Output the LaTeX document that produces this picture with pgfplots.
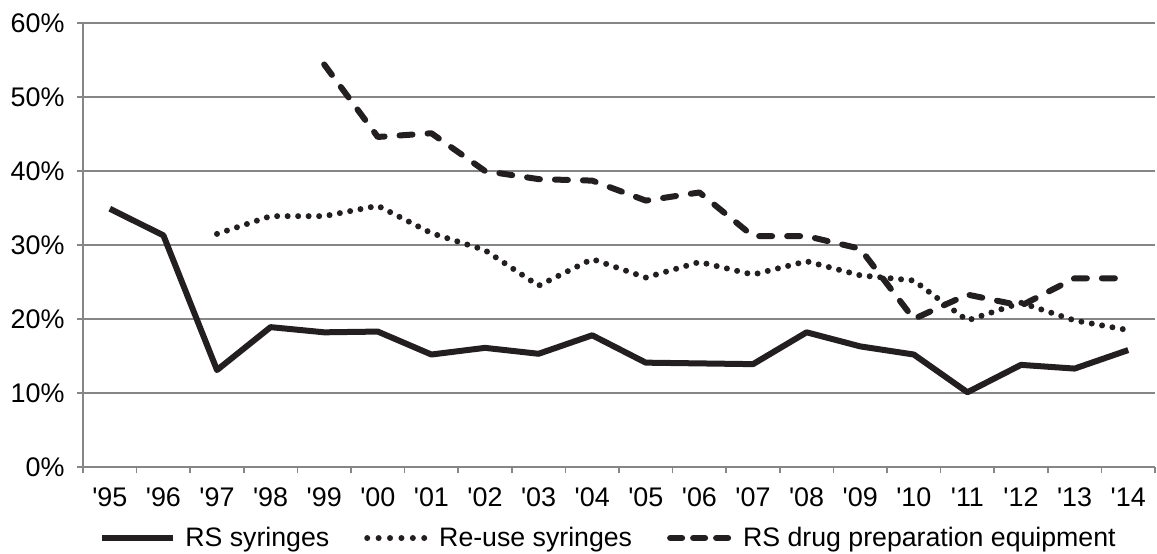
\documentclass[border=0pt]{standalone}
\usepackage{fontspec}
\setmainfont{Liberation Sans}[Ligatures=TeXOff]
\usepackage{pgfplots}
\pgfplotsset{compat=1.18}
\definecolor{ln}{RGB}{35,31,32}
\definecolor{gr}{RGB}{134,134,134}
\begin{document}
\begin{tikzpicture}
\begin{axis}[
  at={(0,0)}, anchor=south west,
  scale only axis, width=1072bp, height=444bp,
  xmin=-0.5, xmax=19.5, ymin=0, ymax=60,
  axis lines=left, axis line style={-, gr, line width=1.5bp},
  ytick={0,10,20,30,40,50,60},
  yticklabels={0\%,10\%,20\%,30\%,40\%,50\%,60\%},
  ymajorgrids, grid style={gr, line width=1.5bp},
  xtick={0,1,...,19},
  xticklabels={'95,'96,'97,'98,'99,'00,'01,'02,'03,'04,'05,'06,'07,'08,'09,'10,'11,'12,'13,'14},
  minor xtick={-0.5,0.5,...,19.5},
  major x tick style={draw=none},
  tick align=outside, major tick length=6bp, minor tick length=6bp,
  tick style={gr, line width=1.5bp},
  ticklabel style={font=\fontsize{27}{32}\selectfont, text=black},
  xticklabel style={yshift=-11bp},
  yticklabel style={xshift=-9bp},
  legend columns=3,
  legend style={at={(0.4902,-0.16)}, anchor=center, draw=none, fill=none,
    font=\fontsize{26.8}{32}\selectfont,
    /tikz/every even column/.append style={column sep=30bp}},
  clip=false,
]
\addplot[ln, line width=6bp, line join=round,
  legend image code/.code={\draw[ln, line width=6bp] (0bp,0bp) -- (71bp,0bp);}] coordinates {
 (0,34.9) (1,31.3) (2,13.1) (3,18.9) (4,18.2) (5,18.3) (6,15.2) (7,16.1) (8,15.3) (9,17.8)
 (10,14.1) (11,14.0) (12,13.9) (13,18.2) (14,16.3) (15,15.2) (16,10.1) (17,13.8) (18,13.3) (19,15.8)};
\addlegendentry{\hspace{7bp}RS syringes}
\addplot[ln, line width=6bp, line cap=round, dash pattern=on 0bp off 10.5bp,
  legend image code/.code={\draw[ln, line width=6bp, line cap=round, dash pattern=on 0bp off 11.4bp] (3bp,0bp) -- (60bp,0bp); \path (0bp,0bp) (63bp,0bp);}] coordinates {
 (2,31.5) (3,33.9) (4,33.9) (5,35.3) (6,31.6) (7,29.3) (8,24.5) (9,28.1)
 (10,25.6) (11,27.7) (12,26.0) (13,27.8) (14,25.9) (15,25.2) (16,19.8) (17,22.2) (18,19.8) (19,18.5)};
\addlegendentry{\hspace{7bp}Re-use syringes}
\addplot[ln, line width=6bp, line cap=round, line join=round, dash pattern=on 13bp off 15bp,
  legend image code/.code={\draw[ln, line width=6bp, line cap=round, dash pattern=on 12bp off 11bp] (3bp,0bp) -- (61bp,0bp); \path (0bp,0bp) (64bp,0bp);}] coordinates {
 (4,54.4) (5,44.6) (6,45.1) (7,40.0) (8,38.9) (9,38.7)
 (10,36.0) (11,37.1) (12,31.2) (13,31.2) (14,29.5) (15,20.0) (16,23.3) (17,21.8) (18,25.5) (19,25.5)};
\addlegendentry{\hspace{7bp}RS drug preparation equipment}
\end{axis}
\pgfresetboundingbox
\path[use as bounding box] (-83bp,-87bp) rectangle (1074bp,467bp);
\end{tikzpicture}
\end{document}
